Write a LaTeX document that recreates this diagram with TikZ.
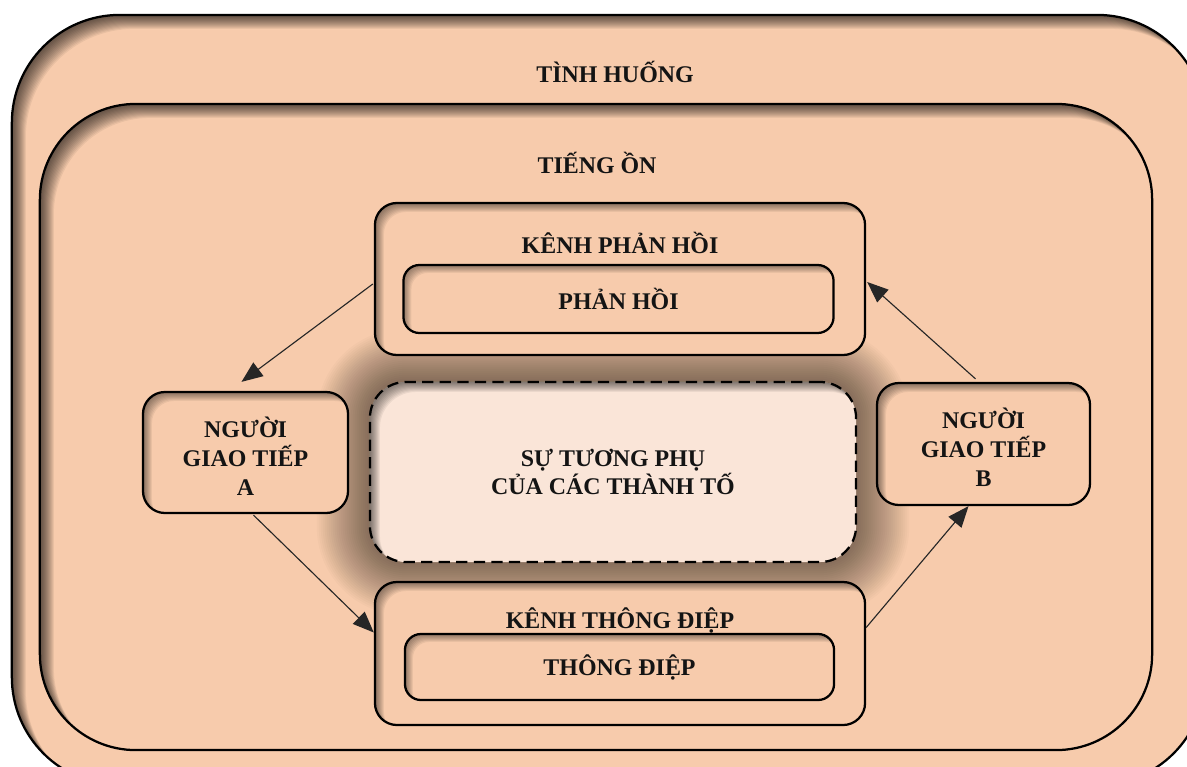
\documentclass[tikz,border=0pt]{standalone}
\usepackage{fontspec}
\setmainfont{Liberation Serif}
\usetikzlibrary{arrows.meta,calc}
\definecolor{peach}{HTML}{F7CBAC}
\definecolor{pale}{HTML}{FAE5D8}
\pgfdeclarelayer{back}
\pgfdeclarelayer{glow}
\pgfsetlayers{back,glow,main}
\tikzset{
  inshadow/.style n args={2}{path picture={
    \foreach \d in {1,...,#2}{
      \fill[black,opacity=0.06,even odd rule,rounded corners=#1]
        ([shift={(-3cm,3cm)}]path picture bounding box.north west) rectangle
        ([shift={(3cm,-3cm)}]path picture bounding box.south east)
        ([shift={({\d*0.025cm},{-\d*0.025cm})}]path picture bounding box.north west) rectangle
        ([shift={({\d*0.025cm},{-\d*0.025cm})}]path picture bounding box.south east);
    }}},
  box/.style={draw=black, line width=1.6pt, fill=peach, rounded corners=#1, inner sep=0pt, align=center},
  lbl/.style={font=\bfseries\fontsize{17}{20.5}\selectfont, align=center, text=black!92},
  conn/.style={draw=black!85, line width=0.8pt, -{Triangle[length=15pt,width=12pt]}},
}
\begin{document}
\begin{tikzpicture}[x=0.025cm,y=-0.025cm]
\useasboundingbox (0,0) rectangle (1187,767);
\clip (0,0) rectangle (1187,767);
\begin{pgfonlayer}{back}
\node (outer) [box=2.7cm, inshadow={2.7cm}{14}, minimum width=29.825cm, minimum height=19.25cm] at (608.5,400) {};
\node (inner) [box=2.4cm, inshadow={2.4cm}{14}, minimum width=27.8cm, minimum height=16.15cm] at (596,427) {};
\end{pgfonlayer}
\node (tinhhuong) [lbl] at (615,72) {TÌNH HUỐNG};
\node (tiengon) [lbl] at (597,163) {TIẾNG ỒN};

% centre box
\node (ctr) [box=0.9cm, fill=pale, dash pattern=on 8pt off 4.5pt, inshadow={0.9cm}{10}, minimum width=12.15cm, minimum height=4.5cm, lbl] at (613,472) {SỰ TƯƠNG PHỤ\\CỦA CÁC THÀNH TỐ};
\begin{pgfonlayer}{glow}
\foreach \i in {1,...,26}{
  \pgfmathsetmacro\rr{0.9+\i*0.05}
  \fill[black,opacity=0.02,rounded corners=\rr cm]
    ($(ctr.north west)+(-2*\i,-2*\i)$) rectangle ($(ctr.south east)+(2*\i,2*\i)$);
}
\end{pgfonlayer}

% feedback channel
\node (kph) [box=0.55cm, inshadow={0.55cm}{9}, minimum width=12.25cm, minimum height=3.8cm] at (620,279) {};
\node (kphl) [lbl] at (620,243) {KÊNH PHẢN HỒI};
\node (ph) [box=0.4cm, inshadow={0.4cm}{8}, minimum width=10.75cm, minimum height=1.7cm, lbl] at (618.5,299) {PHẢN HỒI};

% message channel
\node (ktd) [box=0.55cm, inshadow={0.55cm}{9}, minimum width=12.25cm, minimum height=3.575cm] at (620,653.5) {};
\node (ktdl) [lbl] at (620,620) {KÊNH THÔNG ĐIỆP};
\node (td) [box=0.4cm, inshadow={0.4cm}{8}, minimum width=10.725cm, minimum height=1.65cm, lbl] at (619.5,667) {THÔNG ĐIỆP};

% communicators
\node (A) [box=0.55cm, inshadow={0.55cm}{9}, minimum width=5.125cm, minimum height=3.025cm] at (245.5,452.5) {};
\node (Al) [lbl] at ($(A)+(0,4)$) {NGƯỜI\\GIAO TIẾP\\A};
\node (B) [box=0.55cm, inshadow={0.55cm}{9}, minimum width=5.325cm, minimum height=3.05cm] at (983.5,444) {};
\node (Bl) [lbl] at ($(B)+(0,3)$) {NGƯỜI\\GIAO TIẾP\\B};

% connectors
\draw[conn] ($(kph.west)+(-1,5)$) -- ($(A.north)+(-4,-9)$);
\draw[conn] ($(A.south)+(8,1)$) -- ($(ktd.west)+(0,-21)$);
\draw[conn] ($(ktd.east)+(0,-26)$) -- ($(B.south)+(-15,0)$);
\draw[conn] ($(B.north)+(-8,-3)$) -- ($(kph.east)+(1,3)$);
\end{tikzpicture}
\end{document}
